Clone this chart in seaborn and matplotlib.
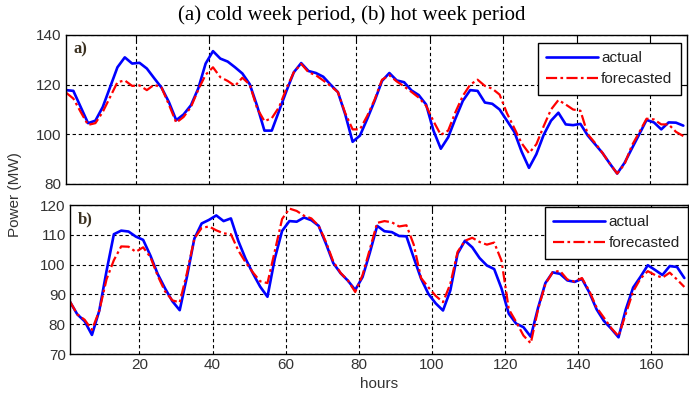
import numpy as np
import pandas as pd
import seaborn as sns
from matplotlib import pyplot as plt

# hours sampled every 2 h
hours = list(range(1, 170, 2))

# (a) cold week period
cold_actual = [
    117.8, 117.5, 111.0, 104.5, 105.5, 111.0, 119.0, 127.0, 131.0, 128.5,
    128.8, 126.5, 122.6, 118.8, 113.0, 105.7, 108.0, 111.7, 118.5, 128.5,
    133.5, 130.5, 129.3, 127.0, 124.5, 120.2, 111.5, 101.5, 101.5, 109.5,
    117.5, 125.0, 128.7, 125.5, 124.7, 123.2, 120.0, 117.0, 108.0, 97.0,
    99.5, 106.3, 113.5, 121.5, 124.7, 121.7, 121.0, 117.7, 115.8, 112.0,
    101.5, 94.2, 98.8, 106.4, 113.5, 117.8, 117.5, 112.8, 112.3, 110.0,
    105.5, 101.0, 93.0, 86.5, 92.0, 99.8, 105.5, 108.7, 104.0, 103.7,
    104.2, 99.5, 96.0, 92.5, 88.2, 84.2, 88.5, 94.3, 100.0, 105.8,
    104.8, 102.0, 104.8, 104.7, 103.5,
]
cold_forecast = [
    116.8, 114.4, 109.0, 103.8, 104.5, 109.0, 115.0, 121.0, 121.7, 119.5,
    119.7, 117.8, 120.0, 118.8, 112.0, 104.7, 107.0, 111.0, 118.0, 124.0,
    127.0, 123.0, 121.5, 119.5, 122.8, 120.0, 110.5, 105.3, 106.5, 111.0,
    118.5, 125.0, 128.4, 125.0, 123.8, 121.7, 119.5, 117.0, 108.5, 102.0,
    102.0, 107.5, 114.0, 122.0, 123.8, 121.3, 119.3, 117.1, 114.8, 111.5,
    105.3, 99.8, 101.5, 109.0, 115.5, 120.0, 122.0, 119.5, 118.4, 116.0,
    108.5, 102.5, 96.4, 92.4, 96.0, 103.3, 110.0, 113.8, 112.0, 110.0,
    109.5, 100.0, 96.5, 92.5, 88.2, 84.2, 88.0, 95.5, 100.8, 106.3,
    106.0, 104.0, 104.0, 101.0, 99.3,
]

# (b) hot week period
hot_actual = [
    87.5, 83.3, 81.0, 76.4, 84.5, 97.9, 110.2, 111.4, 111.1, 109.4,
    108.3, 103.0, 96.8, 92.0, 87.7, 84.7, 96.0, 108.7, 113.8, 115.0,
    116.5, 114.6, 115.5, 108.0, 102.0, 97.1, 92.6, 89.2, 102.0, 111.3,
    114.6, 114.4, 115.8, 114.9, 113.0, 107.0, 100.5, 97.1, 94.6, 91.5,
    95.8, 104.0, 113.0, 111.2, 110.9, 109.6, 109.5, 102.3, 95.3, 90.2,
    87.0, 84.6, 91.3, 103.7, 108.0, 105.8, 102.2, 99.7, 98.5, 92.0,
    83.5, 80.2, 79.0, 75.8, 85.5, 93.8, 97.4, 96.9, 94.7, 94.2,
    95.2, 90.7, 85.0, 81.1, 78.5, 75.6, 85.0, 92.3, 95.9, 99.8,
    98.2, 96.5, 99.5, 99.2, 95.5,
]
hot_forecast = [
    87.6, 83.3, 81.5, 78.1, 84.5, 95.1, 101.5, 106.1, 106.0, 104.3,
    105.8, 102.5, 96.2, 91.0, 88.0, 87.3, 97.3, 108.7, 112.3, 112.8,
    111.5, 110.5, 110.2, 104.8, 100.8, 97.4, 94.4, 93.8, 104.5, 115.3,
    118.8, 118.0, 116.4, 115.5, 113.0, 107.6, 101.0, 97.2, 94.7, 90.8,
    96.5, 105.2, 114.0, 114.6, 114.2, 112.8, 113.2, 106.7, 95.5, 92.4,
    89.5, 87.4, 93.5, 104.3, 108.0, 109.0, 107.6, 106.7, 107.4, 101.3,
    85.0, 80.8, 76.2, 73.6, 85.0, 93.5, 97.5, 97.9, 95.0, 94.3,
    95.5, 91.2, 85.6, 82.2, 78.7, 76.0, 83.5, 91.0, 95.3, 97.8,
    96.5, 95.6, 97.3, 95.0, 92.5,
]

x_ticks = [20, 40, 60, 80, 100, 120, 140, 160]
cold_yticks = [80, 100, 120, 140]
hot_yticks = [70, 80, 90, 100, 110, 120]

sns.set_style("white")
plt.rcParams["font.family"] = ["Liberation Sans", "DejaVu Sans"]

fig = plt.figure(figsize=(6.89, 3.94), dpi=100)
ax_a = fig.add_axes([66 / 689, 210 / 394, 621 / 689, 149 / 394])
ax_b = fig.add_axes([70 / 689, 40 / 394, 618 / 689, 149 / 394])

panels = [
    (ax_a, cold_actual, cold_forecast, cold_yticks, "a)", (0.990, 0.946)),
    (ax_b, hot_actual, hot_forecast, hot_yticks, "b)", (1.0, 0.987)),
]

for ax, act, fc, yt, lab, anchor in panels:
    df = pd.DataFrame({"hours": hours, "actual": act, "forecasted": fc})
    sns.lineplot(data=df, x="hours", y="actual", color="#0000ff", lw=1.9,
                 label="actual", ax=ax)
    sns.lineplot(data=df, x="hours", y="forecasted", color="#ff0000", lw=1.6,
                 linestyle=(0, (5, 1.5, 1.2, 1.5)), label="forecasted", ax=ax)
    ax.set_xlim(1, 170)
    ax.set_ylim(yt[0], yt[-1])
    ax.set_xticks(x_ticks)
    ax.set_yticks(yt)
    ax.grid(True, color="black", linestyle=(0, (3, 2.5)), lw=0.8)
    ax.tick_params(direction="in", length=4, top=True, right=True,
                   labelsize=11, labelcolor="#333333", color="black", pad=3)
    for s in ax.spines.values():
        s.set_color("black")
        s.set_linewidth(1.0)
    ax.set_xlabel("")
    ax.set_ylabel("")
    ax.text(0.012, 0.96, lab, transform=ax.transAxes, ha="left", va="top",
            fontsize=12, fontweight="bold", family="Liberation Serif",
            color="#3a3020")
    leg = ax.legend(loc="upper right", bbox_to_anchor=anchor, borderaxespad=0,
                    fancybox=False, framealpha=1, edgecolor="black",
                    fontsize=11, handlelength=3.4, handletextpad=0.2,
                    borderpad=0.55, labelspacing=0.45)
    leg.get_frame().set_linewidth(1.0)
    for t in leg.get_texts():
        t.set_color("#222222")

ax_a.tick_params(labelbottom=False)

fig.text(352 / 689, 1 - 15 / 394, "(a) cold week period, (b) hot week period",
         ha="center", va="center", fontsize=15, family="Liberation Serif",
         color="black")
fig.text(15 / 689, 1 - 195 / 394, "Power (MW)", rotation=90, ha="center",
         va="center", fontsize=11, color="#333333")
fig.text(379 / 689, 1 - 384 / 394, "hours", ha="center", va="center",
         fontsize=11, color="#333333")

plt.savefig("out.png", dpi=100)
plt.close()
